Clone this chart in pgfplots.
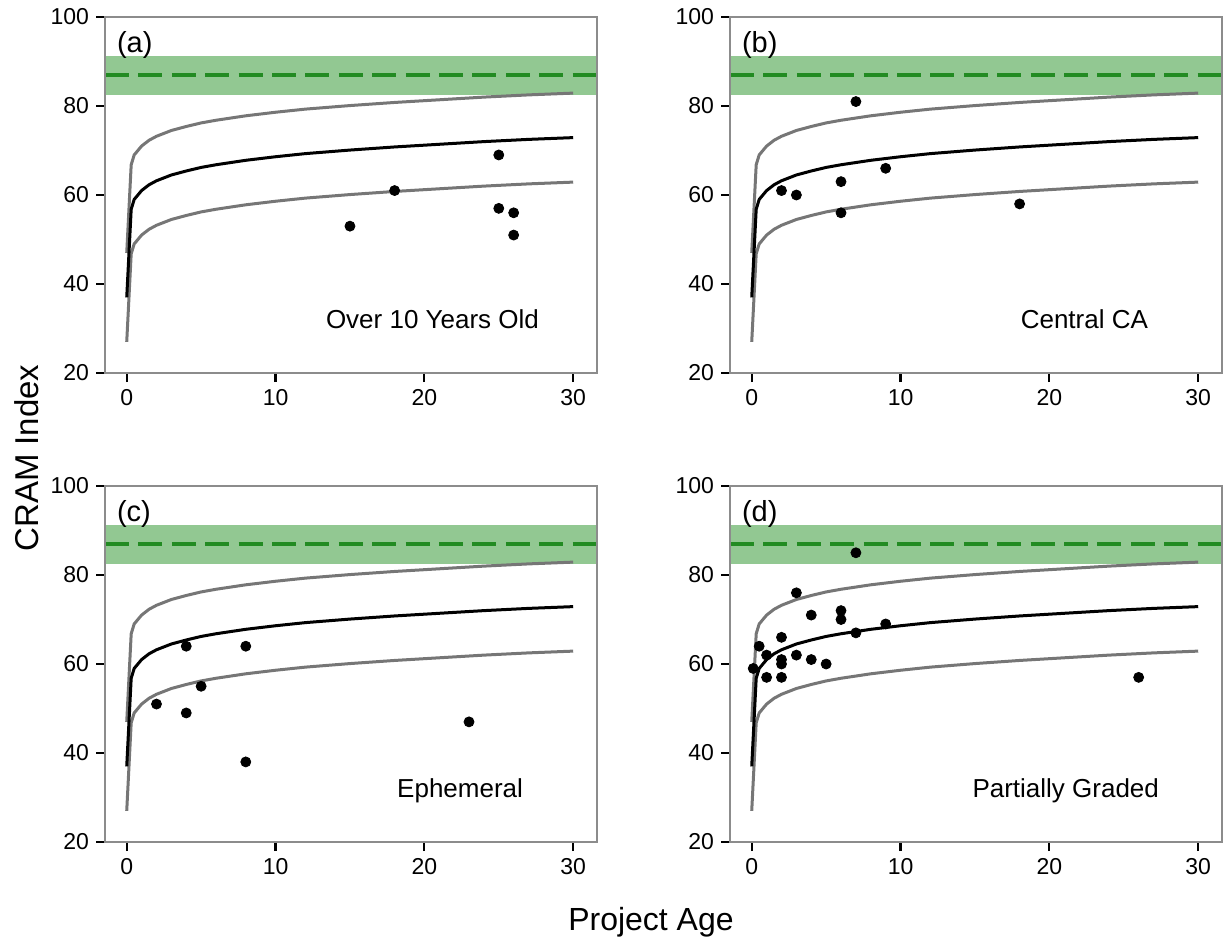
\documentclass[border=0pt]{standalone}
\usepackage{fontspec}
\setmainfont{Liberation Sans}
\usepackage{pgfplots}
\usepackage{pgfplotstable}
\pgfplotsset{compat=1.18}

\definecolor{bandgreen}{RGB}{146,200,146}
\definecolor{refgreen}{RGB}{34,139,34}
\definecolor{spinegray}{RGB}{140,140,140}
\definecolor{curvegray}{RGB}{118,118,118}

% fitted curve with +/-10 envelope
\pgfplotstableread{
x     mid   lo    hi
0     37.0  27.0  47.0
0.3   56.8  46.8  66.8
0.5   59.0  49.0  69.0
1     61.0  51.0  71.0
1.5   62.3  52.3  72.3
2     63.2  53.2  73.2
3     64.5  54.5  74.5
4     65.4  55.4  75.4
5     66.2  56.2  76.2
6     66.8  56.8  76.8
8     67.8  57.8  77.8
10    68.6  58.6  78.6
12    69.3  59.3  79.3
15    70.1  60.1  80.1
18    70.8  60.8  80.8
21    71.4  61.4  81.4
24    72.0  62.0  82.0
27    72.5  62.5  82.5
30    72.9  62.9  82.9
}\curve

\pgfplotstableread{
x  y
15 53
18 61
25 69
25 57
26 56
26 51
}\ptsA

\pgfplotstableread{
x  y
2  61
3  60
6  63
6  56
7  81
9  66
18 58
}\ptsB

\pgfplotstableread{
x  y
2  51
4  64
4  49
5  55
8  64
8  38
23 47
}\ptsC

\pgfplotstableread{
x    y
0.1  59
0.5  64
1    62
1    57
2    66
2    61
2    60
2    57
3    76
3    62
4    71
4    61
5    60
6    72
6    70
7    67
7    85
9    69
26   57
}\ptsD

\pgfplotsset{
  panel/.style={
    scale only axis,
    width=246pt, height=178pt,
    anchor=south west,
    xmin=-1.46, xmax=31.6,
    ymin=20, ymax=100,
    xtick={0,10,20,30},
    ytick={20,40,60,80,100},
    tick align=outside,
    xtick pos=bottom, ytick pos=left,
    major tick length=4.5pt,
    tick style={black, line width=1.1pt},
    axis line style={spinegray, line width=1.3pt},
    axis on top,
    tick label style={font=\fontsize{11.5}{13}\selectfont, black},
    /pgf/number format/assume math mode=true,
  },
}

\newcommand{\panelcontent}[1]{%
  \addplot[draw=none, fill=bandgreen] coordinates {(-5,82.5) (35,82.5) (35,91.2) (-5,91.2)};
  \addplot[refgreen, line width=1.7pt, dash pattern=on 12pt off 4.7pt] coordinates {(-1.46,87) (35,87)};
  \addplot[curvegray, line width=1.5pt] table[x=x, y=hi] {\curve};
  \addplot[curvegray, line width=1.5pt] table[x=x, y=lo] {\curve};
  \addplot[black, line width=1.5pt] table[x=x, y=mid] {\curve};
  \addplot[only marks, mark=*, mark size=2.5pt, black] table[x=x, y=y] {#1};
}

\begin{document}
\begin{tikzpicture}
\useasboundingbox (0,0) rectangle (612pt,469.5pt);

\begin{axis}[panel, at={(52.5pt,283pt)}]
  \panelcontent{\ptsA}
  \node[anchor=base west, font=\fontsize{14.5}{16}\selectfont] at (rel axis cs:0,1) [xshift=2.5pt, yshift=-17.5pt] {(a)};
  \node[anchor=base east, font=\fontsize{13}{15}\selectfont] at (rel axis cs:1,0) [xshift=-25.5pt, yshift=22.5pt] {Over 10 Years Old};
\end{axis}

\begin{axis}[panel, at={(365pt,283pt)}]
  \panelcontent{\ptsB}
  \node[anchor=base west, font=\fontsize{14.5}{16}\selectfont] at (rel axis cs:0,1) [xshift=2.5pt, yshift=-17.5pt] {(b)};
  \node[anchor=base east, font=\fontsize{13}{15}\selectfont] at (rel axis cs:1,0) [xshift=-33.5pt, yshift=22.5pt] {Central CA};
\end{axis}

\begin{axis}[panel, at={(52.5pt,48.5pt)}]
  \panelcontent{\ptsC}
  \node[anchor=base west, font=\fontsize{14.5}{16}\selectfont] at (rel axis cs:0,1) [xshift=2.5pt, yshift=-17.5pt] {(c)};
  \node[anchor=base east, font=\fontsize{13}{15}\selectfont] at (rel axis cs:1,0) [xshift=-33.5pt, yshift=22.5pt] {Ephemeral};
\end{axis}

\begin{axis}[panel, at={(365pt,48.5pt)}]
  \panelcontent{\ptsD}
  \node[anchor=base west, font=\fontsize{14.5}{16}\selectfont] at (rel axis cs:0,1) [xshift=2.5pt, yshift=-17.5pt] {(d)};
  \node[anchor=base east, font=\fontsize{13}{15}\selectfont] at (rel axis cs:1,0) [xshift=-28pt, yshift=22.5pt] {Partially Graded};
\end{axis}

\node[anchor=base, font=\fontsize{16}{19}\selectfont] at (325.5pt,4.5pt) {Project Age};
\node[anchor=base, rotate=90, font=\fontsize{16.5}{19}\selectfont] at (19pt,240.5pt) {CRAM Index};
\end{tikzpicture}
\end{document}
